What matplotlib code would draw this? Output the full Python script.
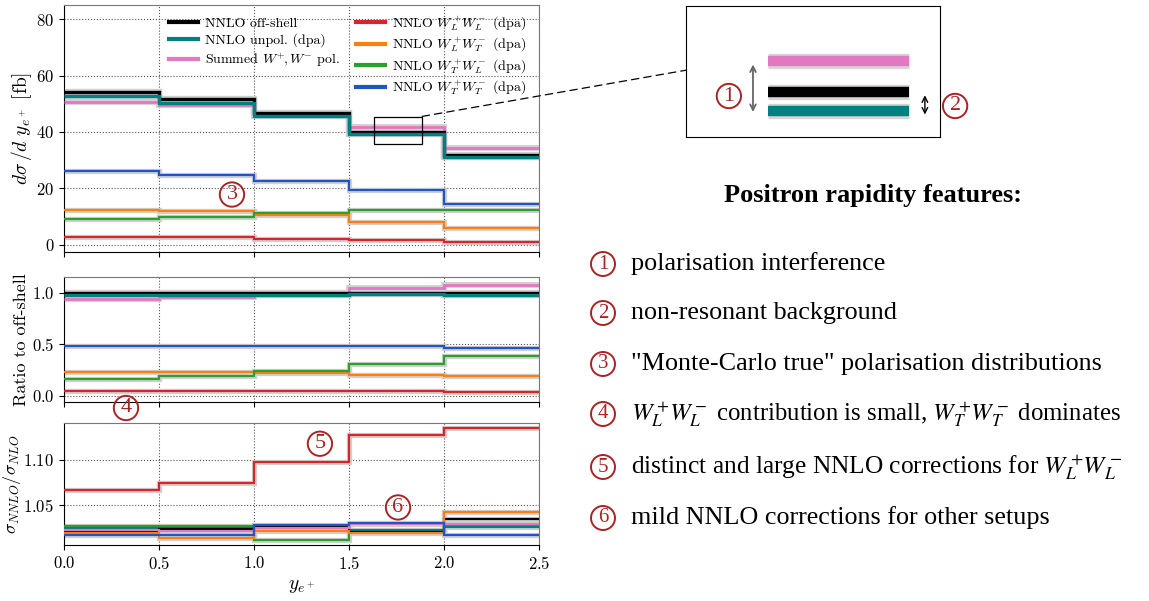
import matplotlib
matplotlib.use("Agg")
import matplotlib.pyplot as plt
from matplotlib.patches import ConnectionPatch
from matplotlib.lines import Line2D
import numpy as np

plt.rcParams['font.family'] = ['cmr10', 'DejaVu Serif']
plt.rcParams['mathtext.fontset'] = 'cm'
plt.rcParams['axes.formatter.use_mathtext'] = True

# bin edges in positron rapidity
edges = [0.0, 0.5, 1.0, 1.5, 2.0, 2.5]

# NNLO differential cross sections [fb]
offshell = [54.1, 51.5, 46.6, 39.9, 31.8]
unpol = [52.8, 50.2, 45.7, 39.2, 31.0]
summed = [50.5, 49.5, 46.3, 41.6, 34.2]
ll = [2.8, 2.6, 2.0, 1.8, 1.1]
lt = [12.5, 12.0, 10.4, 8.1, 6.0]
tl = [9.0, 9.9, 11.2, 12.5, 12.4]
tt = [26.0, 24.9, 22.7, 19.4, 14.6]

# NNLO / NLO K-factors
k_offshell = [1.021, 1.023, 1.026, 1.020, 1.034]
k_unpol = [1.024, 1.024, 1.025, 1.022, 1.025]
k_summed = [1.022, 1.021, 1.024, 1.028, 1.028]
k_ll = [1.066, 1.074, 1.098, 1.128, 1.135]
k_lt = [1.019, 1.013, 1.021, 1.018, 1.0415]
k_tl = [1.026, 1.026, 1.011, 1.021, 1.027]
k_tt = [1.016, 1.016, 1.027, 1.0296, 1.016]

labels = ['NNLO off-shell', 'NNLO unpol. (dpa)', r'Summed $W^{+}\!, W^{-}$ pol.',
          r'NNLO $W^+_L\!W^-_L$ (dpa)', r'NNLO $W^+_L\!W^-_T$ (dpa)',
          r'NNLO $W^+_T\!W^-_L$ (dpa)', r'NNLO $W^+_T\!W^-_T$ (dpa)']
colors = ['black', '#008080', '#e377c2', '#d62728', '#ff7f0e', '#2ca02c', '#2156c2']
widths = [2.4, 2.4, 2.0, 1.6, 1.6, 1.6, 1.6]

series = [offshell, unpol, summed, ll, lt, tl, tt]
kfacs = [k_offshell, k_unpol, k_summed, k_ll, k_lt, k_tl, k_tt]
order = [2, 0, 1, 3, 4, 5, 6]

circ_col = '#a82424'

fig = plt.figure(figsize=(11.49, 6.01), dpi=100)
ax1 = fig.add_axes([0.0557, 0.581, 0.4134, 0.4107])
ax2 = fig.add_axes([0.0557, 0.331, 0.4134, 0.208])
ax3 = fig.add_axes([0.0557, 0.093, 0.4134, 0.203])


def stairs(ax, vals, c, lw):
    ax.stairs(vals, edges, baseline=None, color='#d0d0d0', lw=lw + 2.2, zorder=2)
    ax.stairs(vals, edges, baseline=None, color=c, lw=lw, zorder=3)


for i in order:
    stairs(ax1, series[i], colors[i], widths[i])
    ratio = np.array(series[i]) / np.array(offshell)
    stairs(ax2, ratio, colors[i], widths[i])
for i in [3, 5, 1, 0, 2, 4, 6]:
    stairs(ax3, kfacs[i], colors[i], 1.6)

for ax in (ax1, ax2, ax3):
    ax.set_xlim(0, 2.5)
    ax.set_xticks(edges)
    ax.grid(True, ls=':', color='#555555', lw=0.8)
    ax.tick_params(labelsize=12)
    for s in ('top', 'right'):
        ax.spines[s].set_color('#777777')
ax1.tick_params(labelbottom=False)
ax2.tick_params(labelbottom=False)

ax1.set_ylim(-2.5, 85)
ax1.set_yticks([0, 20, 40, 60, 80])
ax1.set_ylabel(r'$d\sigma\,/d\ y_{e^+}$ [fb]', fontsize=14, labelpad=2)
ax2.set_ylim(-0.06, 1.15)
ax2.set_yticks([0.0, 0.5, 1.0])
ax2.set_ylabel('Ratio to off-shell', fontsize=13, labelpad=2)
ax3.set_ylim(1.005, 1.141)
ax3.set_yticks([1.05, 1.10])
ax3.set_ylabel(r'$\sigma_{NNLO}/\sigma_{NLO}$', fontsize=13, labelpad=0)
ax3.set_xlabel(r'$y_{e^+}$', fontsize=14)

# legend: column-major fill, empty slot at bottom of first column
leg_idx = [0, 1, 2, None, 3, 4, 5, 6]
hs, ls = [], []
for i in leg_idx:
    if i is None:
        hs.append(Line2D([], [], color='none'))
        ls.append('')
    else:
        hs.append(Line2D([], [], color=colors[i], lw=3))
        ls.append(labels[i])
ax1.legend(hs, ls, ncol=2, loc='upper left', bbox_to_anchor=(0.195, 1.012),
           frameon=False, fontsize=10, handlelength=2.1, columnspacing=1.1,
           labelspacing=0.25, handletextpad=0.5)

# zoom rectangle in top panel
ax1.add_patch(plt.Rectangle((1.632, 35.8), 0.253, 9.4, fill=False, ec='black', lw=0.9, zorder=5))


def circ(target, x, y, n, size, transform, **kw):
    target.text(x, y, str(n), ha='center', va='center', color=circ_col, fontsize=size,
                family='Liberation Serif', transform=transform,
                bbox=dict(boxstyle='circle,pad=0.12', fc='none', ec=circ_col, lw=1.4), **kw)


circ(ax1, 0.884, 17.8, 3, 16, ax1.transData)
circ(fig, 126 / 1149, 1 - 408 / 601, 4, 16, fig.transFigure)
circ(ax3, 1.347, 1.118, 5, 16, ax3.transData)
circ(ax3, 1.758, 1.047, 6, 16, ax3.transData)

# inset schematic
axi = fig.add_axes([0.597, 0.772, 0.221, 0.218])
axi.set_xlim(0, 1)
axi.set_ylim(0, 1)
axi.set_xticks([])
axi.set_yticks([])
for yc, c in [(0.584, '#e377c2'), (0.344, 'black'), (0.198, '#008080')]:
    axi.plot([0.323, 0.878], [yc, yc], color='#d5d5d5', lw=11, solid_capstyle='butt')
    axi.plot([0.323, 0.878], [yc, yc], color=c, lw=7.5, solid_capstyle='butt')
axi.annotate('', xy=(0.264, 0.17), xytext=(0.264, 0.575),
             arrowprops=dict(arrowstyle='<->', color='#666666', lw=1.3))
axi.annotate('', xy=(0.941, 0.15), xytext=(0.941, 0.34),
             arrowprops=dict(arrowstyle='<->', color='black', lw=1.0))
circ(axi, 0.169, 0.313, 1, 16, axi.transAxes)
circ(axi, 1.06, 0.237, 2, 16, axi.transAxes, clip_on=False)

con = ConnectionPatch(xyA=(1.885, 45.5), coordsA=ax1.transData,
                      xyB=(0.0, 0.51), coordsB=axi.transAxes,
                      ls=(0, (6, 4)), color='black', lw=0.9)
fig.add_artist(con)

# feature list
fig.text(0.760, 0.674, 'Positron rapidity features:', ha='center', va='center',
         fontsize=19, fontweight='bold', family='Liberation Serif')
items = ['polarisation interference',
         'non-resonant background',
         '"Monte-Carlo true" polarisation distributions',
         r'$W_L^+\!W_L^-$ contribution is small, $W_T^+\!W_T^-$ dominates',
         r'distinct and large NNLO corrections for $W_L^+\!W_L^-$',
         'mild NNLO corrections for other setups']
sizes = [18.8, 18.8, 18.8, 17.8, 18.3, 18.8]
ys = [264, 313, 364, 414, 467, 518]
for k, (txt, yp) in enumerate(zip(items, ys)):
    circ(fig, 603 / 1149, 1 - yp / 601, k + 1, 15, fig.transFigure)
    fig.text(631 / 1149, 1 - yp / 601, txt, ha='left', va='center', fontsize=sizes[k],
             family='Liberation Serif', math_fontfamily='stix')

fig.savefig('out.png', dpi=100)
